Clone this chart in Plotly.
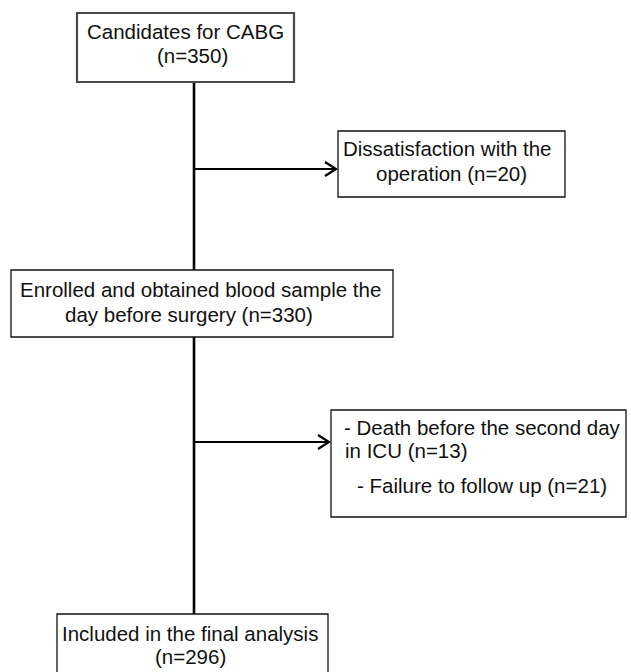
import plotly.graph_objects as go

# ---- content (text of the flowchart) ----
box_ids = ["candidates", "excluded1", "enrolled", "excluded2", "final"]
box_lines = {
    "candidates": ["Candidates for CABG", "(n=350)"],
    "excluded1": ["Dissatisfaction with the", "operation (n=20)"],
    "enrolled": ["Enrolled and obtained blood sample the", "day before surgery (n=330)"],
    "excluded2": ["- Death before the second day", "in ICU (n=13)", "- Failure to follow up (n=21)"],
    "final": ["Included in the final analysis", "(n=296)"],
}

# ---- layout geometry (pixel coordinates, y down) ----
W, H = 631, 672
boxes = {  # x0, y0, x1, y1
    "candidates": (77, 13, 294, 82),
    "excluded1": (338, 131, 565, 197),
    "enrolled": (11, 270, 393, 337),
    "excluded2": (331, 410, 626, 517),
    "final": (57, 614, 328, 676),
}
box_line_color = {"candidates": "#4a4a4a"}
box_line_width = {"candidates": 2.2}
# per-line anchor positions: (x, y, align)
line_pos = {
    "candidates": [(185.5, 31, "center"), (192, 55, "center")],
    "excluded1": [(447.5, 148, "center"), (451.5, 173, "center")],
    "enrolled": [(200.5, 289, "center"), (189, 314, "center")],
    "excluded2": [(342, 427, "left"), (343, 450, "left"), (355, 485, "left")],
    "final": [(190, 633, "center"), (190.5, 656, "center")],
}
spine_x = 194
arrows = [("excluded1", 169), ("excluded2", 442)]

FONT = "Liberation Sans, Arial, sans-serif"
FS = 20.5

fig = go.Figure()
shapes = []
annotations = []

# main vertical connectors (between stacked boxes)
main_chain = ["candidates", "enrolled", "final"]
for a, b in zip(main_chain[:-1], main_chain[1:]):
    shapes.append(dict(type="line", xref="x", yref="y",
                       x0=spine_x, x1=spine_x, y0=boxes[a][3], y1=boxes[b][1],
                       line=dict(color="black", width=2.6)))

# side arrows with open chevron heads
for target, y in arrows:
    xt = boxes[target][0] - 2
    shapes.append(dict(type="line", xref="x", yref="y",
                       x0=spine_x, x1=xt, y0=y, y1=y,
                       line=dict(color="black", width=2.2)))
    shapes.append(dict(type="path", xref="x", yref="y",
                       path=f"M {xt-11} {y-7} L {xt} {y} L {xt-11} {y+7}",
                       line=dict(color="black", width=2.2)))

# boxes
for bid in box_ids:
    x0, y0, x1, y1 = boxes[bid]
    shapes.append(dict(type="rect", xref="x", yref="y", x0=x0, y0=y0, x1=x1, y1=y1,
                       fillcolor="white",
                       line=dict(color=box_line_color.get(bid, "#111111"),
                                 width=box_line_width.get(bid, 1.3))))
    for text, (x, y, al) in zip(box_lines[bid], line_pos[bid]):
        annotations.append(dict(x=x, y=y, xref="x", yref="y", text=text,
                                showarrow=False, xanchor=al, yanchor="middle",
                                font=dict(family=FONT, size=FS, color="#111111")))

fig.update_layout(
    width=W, height=H,
    margin=dict(l=0, r=0, t=0, b=0),
    paper_bgcolor="white", plot_bgcolor="white",
    xaxis=dict(range=[0, W], visible=False, fixedrange=True),
    yaxis=dict(range=[H, 0], visible=False, fixedrange=True),
    shapes=shapes, annotations=annotations, showlegend=False,
)
fig.write_html(
    "out.html",
    config={"displayModeBar": False},
    post_script="document.body.style.margin='0';document.body.style.overflow='hidden';",
)
